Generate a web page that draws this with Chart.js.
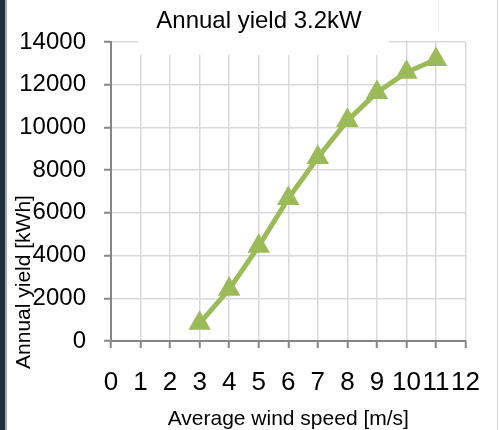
<!DOCTYPE html>
<html>
<head>
<meta charset="utf-8">
<script src="https://cdn.jsdelivr.net/npm/chart.js@4"></script>
<style>
  body { margin: 0; background: #fff; }
  #wrap { width: 499px; height: 430px; position: relative; }
</style>
</head>
<body>
<div id="wrap"><canvas id="chart" width="499" height="430"></canvas></div>
<script>
// values
const windSpeeds = [3, 4, 5, 6, 7, 8, 9, 10, 11];
const yields = [830, 2420, 4440, 6670, 8590, 10320, 11640, 12580, 13180];
const xMin = 0, xMax = 12, xStep = 1;
const yMin = 0, yMax = 14000, yStep = 2000;

const titleText = 'Annual yield 3.2kW';
const xTitle = 'Average wind speed [m/s]';
const yTitle = 'Annual yield [kWh]';

const green = '#9BBB59';
const gridGrey = '#d9d9d9';
const axisGrey = '#868686';
const fontName = '"Liberation Sans", Arial, sans-serif';

let points = windSpeeds.map((w, i) => ({ x: w, y: yields[i] }));

// frame, white title box, titles
let decor = {
  id: 'decor',
  beforeDraw(chart) {
    let c = chart.ctx;
    c.save();
    c.fillStyle = '#fff';
    c.fillRect(0, 0, chart.width, chart.height);
    c.fillStyle = '#1f2e3c';
    c.fillRect(0, 0, 5, chart.height);
    c.fillStyle = '#a8a8a8';
    c.fillRect(5, 0, 2, chart.height);
    c.fillStyle = '#d4d4d4';
    c.fillRect(497, 0, 1, chart.height);
    c.fillStyle = '#eeeeee';
    c.fillRect(438, 0, 1, 30);
    c.restore();
  },
  beforeDatasetsDraw(chart) {
    let c = chart.ctx;
    c.save();
    c.fillStyle = '#fff';
    c.fillRect(138, 0, 251, 55);
    c.restore();
  },
  afterDraw(chart) {
    let c = chart.ctx;
    c.save();
    c.fillStyle = '#000';
    c.textAlign = 'center';
    c.textBaseline = 'middle';
    c.font = '24px ' + fontName;
    c.fillText(titleText, 259, 21);
    c.translate(24, 282);
    c.rotate(-Math.PI / 2);
    c.font = '21px ' + fontName;
    c.fillText(yTitle, 0, 0);
    c.restore();
  }
};

let ctx = document.getElementById('chart');
let myChart = new Chart(ctx, {
  type: 'line',
  data: {
    datasets: [{
      data: points,
      borderColor: green,
      backgroundColor: green,
      borderWidth: 5,
      pointStyle: 'triangle',
      pointRadius: 13,
      pointHoverRadius: 13,
      pointBorderWidth: 0,
      tension: 0
    }]
  },
  options: {
    responsive: false,
    animation: false,
    layout: { padding: { top: 42, right: 30, bottom: 0, left: 0 } },
    plugins: {
      legend: { display: false },
      title: { display: false },
      tooltip: { enabled: false }
    },
    scales: {
      x: {
        type: 'linear',
        min: xMin,
        max: xMax,
        ticks: {
          stepSize: xStep,
          autoSkip: false,
          maxRotation: 0,
          color: '#000',
          padding: 19,
          font: { family: fontName, size: 26 },
          callback: (v) => String(v)
        },
        grid: {
          color: gridGrey,
          lineWidth: 1.5,
          tickColor: axisGrey,
          tickLength: 7,
          tickWidth: 2
        },
        border: { color: axisGrey, width: 2 },
        title: {
          display: true,
          text: xTitle,
          color: '#000',
          padding: { top: 0, bottom: -2 },
          font: { family: fontName, size: 21 }
        },
        afterFit(scale) { scale.height = 89; }
      },
      y: {
        min: yMin,
        max: yMax,
        ticks: {
          stepSize: yStep,
          color: '#000',
          padding: 18,
          font: { family: fontName, size: 24 },
          callback: (v) => String(v)
        },
        grid: {
          color: gridGrey,
          lineWidth: 1.5,
          tickColor: axisGrey,
          tickLength: 7,
          tickWidth: 2
        },
        border: { color: axisGrey, width: 2 },
        afterFit(scale) { scale.width = 111; }
      }
    }
  },
  plugins: [decor]
});
</script>
</body>
</html>
